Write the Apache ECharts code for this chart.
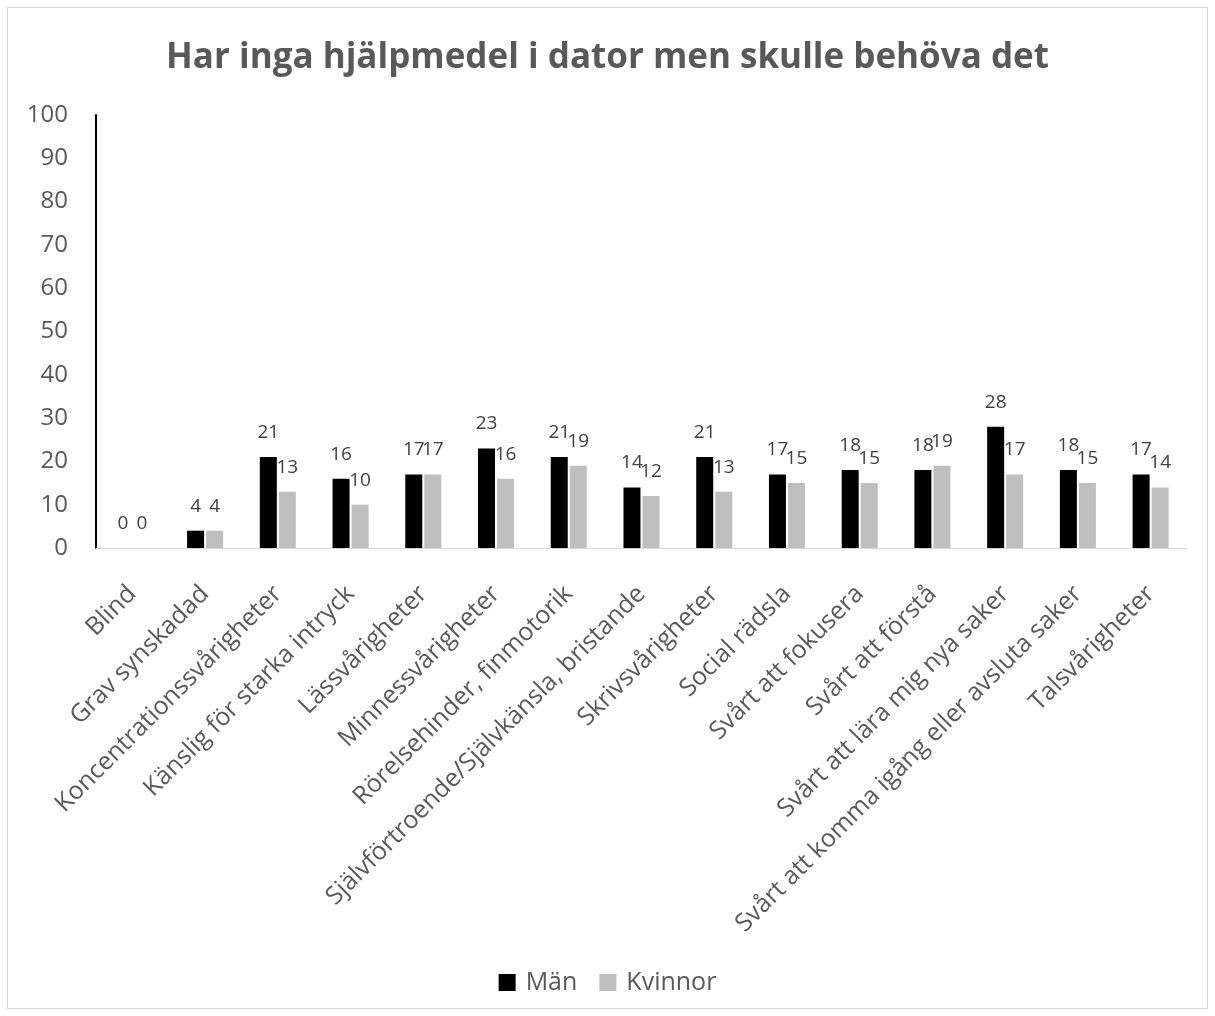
<!DOCTYPE html>
<html>
<head>
<meta charset="utf-8">
<script src="https://cdn.jsdelivr.net/npm/echarts@6/dist/echarts.min.js"></script>
<style>
  html, body { margin: 0; padding: 0; background: #fff; }
  #chart { width: 1215px; height: 1016px; }
</style>
</head>
<body>
<div id="chart"></div>
<script>
var categories = ['Blind', 'Grav synskadad', 'Koncentrationssvårigheter', 'Känslig för starka intryck',
    'Lässvårigheter', 'Minnessvårigheter', 'Rörelsehinder, finmotorik',
    'Självförtroende/Självkänsla, bristande', 'Skrivsvårigheter', 'Social rädsla',
    'Svårt att fokusera', 'Svårt att förstå', 'Svårt att lära mig nya saker',
    'Svårt att komma igång eller avsluta saker', 'Talsvårigheter'];
var man = [0, 4, 21, 16, 17, 23, 21, 14, 21, 17, 18, 18, 28, 18, 17];
var kvinnor = [0, 4, 13, 10, 17, 16, 19, 12, 13, 15, 15, 19, 17, 15, 14];

var font = 'Open Sans';
var chart = echarts.init(document.getElementById('chart'));

var label = {
    show: true,
    position: 'top',
    distance: 15,
    fontFamily: font,
    fontSize: 19,
    color: '#404040'
};

var option = {
    animation: false,
    backgroundColor: '#ffffff',
    title: {
        text: 'Har inga hjälpmedel i dator men skulle behöva det',
        left: 'center',
        top: 36,
        textStyle: { fontFamily: font, fontSize: 35, fontWeight: 'bold', color: '#595959' }
    },
    legend: {
        bottom: 16,
        left: 'center',
        itemWidth: 17,
        itemHeight: 17,
        itemGap: 22,
        icon: 'rect',
        textStyle: { fontFamily: font, fontSize: 25, color: '#595959', padding: [0, 0, 0, 5] },
        data: ['Män', 'Kvinnor']
    },
    grid: { left: 96, right: 28, top: 115, bottom: 468 },
    xAxis: {
        type: 'category',
        data: categories,
        axisLine: { lineStyle: { color: '#d9d9d9', width: 1 } },
        axisTick: { show: false },
        axisLabel: {
            rotate: 45,
            interval: 0,
            margin: 42,
            fontFamily: font,
            fontSize: 25,
            color: '#595959'
        }
    },
    yAxis: {
        type: 'value',
        min: 0,
        max: 100,
        interval: 10,
        splitLine: { show: false },
        axisLine: { show: true, lineStyle: { color: '#000000', width: 2 } },
        axisTick: { show: false },
        axisLabel: { margin: 28, fontFamily: font, fontSize: 24, color: '#595959' }
    },
    graphic: [{
        type: 'rect',
        shape: { x: 7.5, y: 7.5, width: 1200, height: 1001 },
        style: { fill: 'none', stroke: '#d9d9d9', lineWidth: 1 },
        silent: true
    }],
    series: [
        {
            name: 'Män',
            type: 'bar',
            data: man,
            barWidth: 17,
            barGap: '12%',
            itemStyle: { color: '#000000' },
            label: label
        },
        {
            name: 'Kvinnor',
            type: 'bar',
            data: kvinnor,
            barWidth: 17,
            itemStyle: { color: '#bfbfbf' },
            label: label
        }
    ]
};

chart.setOption(option);
</script>
</body>
</html>
